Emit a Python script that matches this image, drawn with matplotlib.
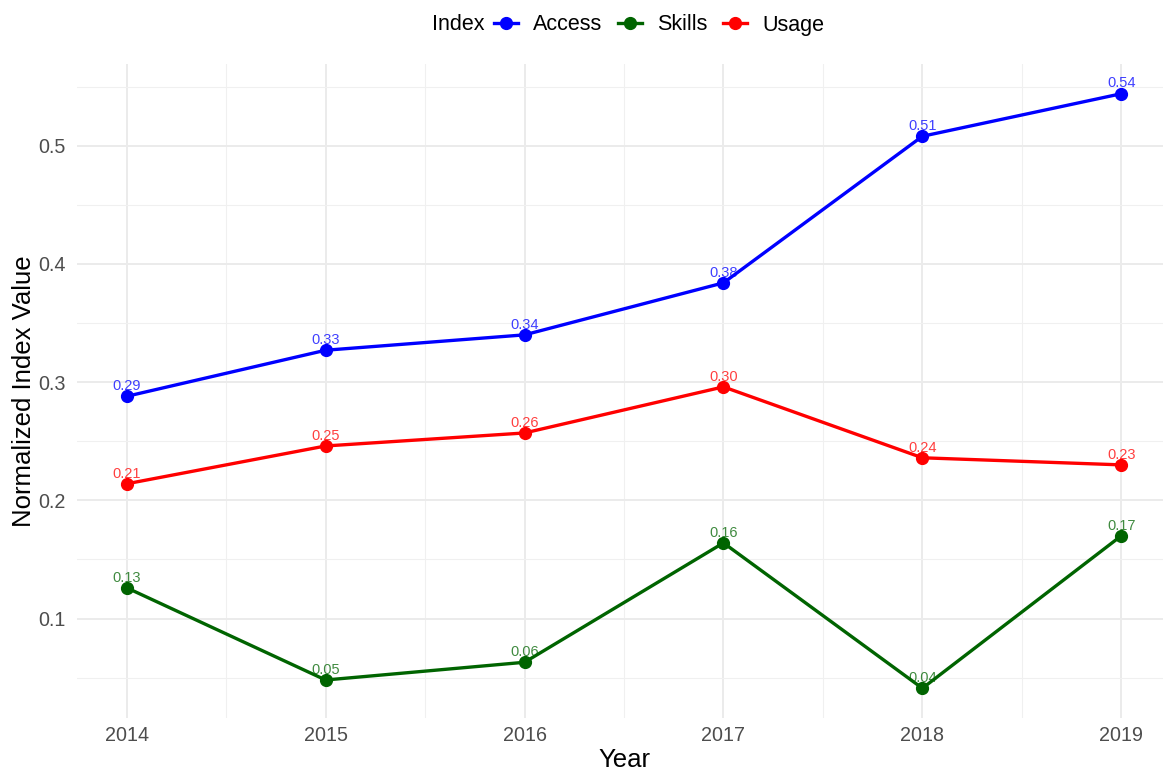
import matplotlib
matplotlib.use("Agg")
import matplotlib.pyplot as plt
from matplotlib.lines import Line2D
from matplotlib.ticker import MultipleLocator

plt.rcParams['font.family'] = ['Liberation Sans', 'DejaVu Sans']

years = [2014, 2015, 2016, 2017, 2018, 2019]
access = [0.288, 0.327, 0.340, 0.384, 0.508, 0.544]
skills = [0.126, 0.048, 0.063, 0.164, 0.041, 0.170]
usage = [0.214, 0.246, 0.257, 0.296, 0.236, 0.230]

series_names = ["Access", "Skills", "Usage"]
series_values = [access, skills, usage]
series_colors = ["#0000FF", "#006400", "#FF0000"]

W, H = 1163, 772
fig = plt.figure(figsize=(W / 100, H / 100), dpi=100)
# panel spans 2013.75..2019.25; the right margin runs past the canvas edge
left_px, right_px, top_px, bottom_px = 77, 1171, 64, 718
ax = fig.add_axes([left_px / W, 1 - bottom_px / H,
                   (right_px - left_px) / W, (bottom_px - top_px) / H])

for name, vals, col in zip(series_names, series_values, series_colors):
    ax.plot(years, vals, color=col, lw=2.4, marker='o', ms=8.5,
            solid_capstyle='round', zorder=4)
    for x, y in zip(years, vals):
        ax.annotate(f"{y:.2f}", (x, y), xytext=(0, 4.5), textcoords='offset points',
                    ha='center', va='baseline', fontsize=10.5, color=col,
                    alpha=0.75, zorder=3)

lo, hi = min(min(v) for v in series_values), max(max(v) for v in series_values)
pad = (hi - lo) * 0.05
ax.set_ylim(lo - pad, hi + pad)
ax.set_xlim(2013.75, 2019.25)

ax.set_xticks(years)
ax.xaxis.set_minor_locator(MultipleLocator(0.5))
ax.yaxis.set_minor_locator(MultipleLocator(0.05))
ax.set_yticks([0.1, 0.2, 0.3, 0.4, 0.5])
ax.set_yticklabels(["0.1", "0.2", "0.3", "0.4", "0.5"])

ax.grid(which='major', color='#EBEBEB', lw=1.4, zorder=0)
ax.grid(which='minor', color='#F0F0F0', lw=0.8, zorder=0)
ax.set_axisbelow(True)
for s in ax.spines.values():
    s.set_visible(False)
ax.tick_params(which='both', length=0)
ax.tick_params(axis='x', labelsize=14.2, labelcolor='#4D4D4D', pad=6)
ax.tick_params(axis='y', labelsize=14.2, labelcolor='#4D4D4D', pad=8)

ax.set_xlabel("Year", fontsize=18.5, labelpad=2)
ax.set_ylabel("Normalized Index Value", fontsize=18.5, labelpad=2)

handles = [Line2D([0], [0], color=c, lw=2.4, marker='o', ms=8.5) for c in series_colors]
fig.text(432 / W, 1 - 25 / H, "Index", fontsize=15.5, va='center', ha='left')
fig.legend(handles, series_names, loc='center left',
           bbox_to_anchor=(494 / W, 1 - 25 / H), ncol=3, frameon=False,
           fontsize=15.5, handlelength=1.1, handletextpad=0.7,
           columnspacing=0.75, borderaxespad=0, borderpad=0)

fig.savefig("out.png", dpi=100)
